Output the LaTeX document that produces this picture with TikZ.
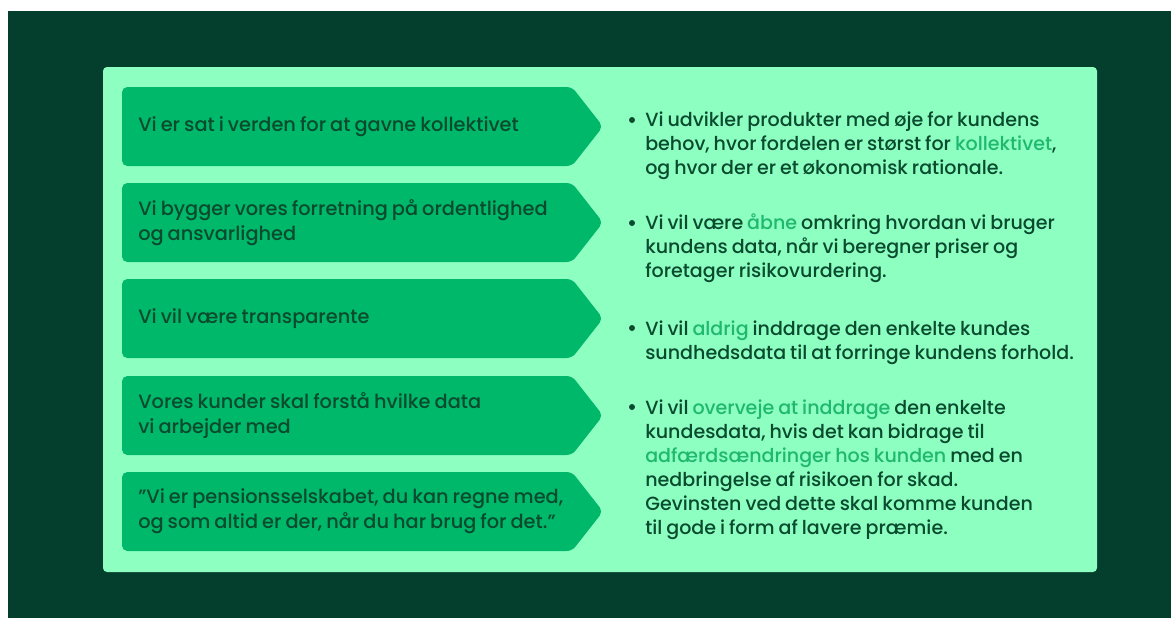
\documentclass[tikz,border=0pt]{standalone}
\usepackage{fontspec}
\IfFontExistsTF{Poppins Medium}{\setmainfont{Poppins Medium}[WordSpace=0.8]}{\setmainfont{Poppins}[WordSpace=0.8]}
\definecolor{darkbg}{HTML}{033F2C}
\definecolor{panel}{HTML}{8CFFC1}
\definecolor{boxgreen}{HTML}{00B86A}
\definecolor{textdark}{HTML}{0A4A2E}
\definecolor{hlgreen}{HTML}{1FB86E}
\newcommand\hl[1]{\textcolor{hlgreen}{#1}}

\begin{document}
\begin{tikzpicture}[x=0.75pt,y=-0.75pt]
	\tikzstyle{valuebox}=[fill=boxgreen, rounded corners=4pt]
	\tikzstyle{valuetext}=[anchor=west, inner sep=0pt, align=left, text=textdark, font=\fontsize{14.5}{18.75}\selectfont]
	\tikzstyle{pointtext}=[anchor=north west, inner sep=0pt, align=left, text=textdark, font=\fontsize{14.3}{18}\selectfont]
	\tikzstyle{dot}=[circle, fill=textdark, minimum size=4.5pt, inner sep=0pt]
	  % background and panel
	  \fill[white] (0,0) rectangle (1171,618);
	  \fill[darkbg] (8,11) rectangle (1171,618);
	  \fill[panel, rounded corners=3pt] (103,67) rectangle (1097,572);
	  % value arrows
	  \foreach \y/\name/\txt in {87/v1/{Vi er sat i verden for at gavne kollektivet},
	      183/v2/{Vi bygger vores forretning på ordentlighed\\og ansvarlighed},
	      279/v3/{Vi vil være transparente},
	      376/v4/{Vores kunder skal forstå hvilke data\\vi arbejder med},
	      472/v5/{”Vi er pensionsselskabet, du kan regne med,\\og som altid er der, når du har brug for det.”}}{
	    \fill[valuebox] (122,\y) -- ++(450,0) -- ++(31,39.5) -- ++(-31,39.5) -- ++(-450,0) -- cycle;
	    \node[valuetext] (\name) at (138,\y+39.5) {\txt};
	  }
	  % points
	  \node[pointtext] (p1) at (645,112) {Vi udvikler produkter med øje for kundens\\behov, hvor fordelen er størst for \hl{kollektivet},\\og hvor der er et økonomisk rationale.};
	  \node[pointtext] (p2) at (645,214) {Vi vil være \hl{åbne} omkring hvordan vi bruger\\kundens data, når vi beregner priser og\\foretager risikovurdering.};
	  \node[pointtext] (p3) at (645,321) {Vi vil \hl{aldrig} inddrage den enkelte kundes\\sundhedsdata til at forringe kundens forhold.};
	  \node[pointtext] (p4) at (645,400) {Vi vil \hl{overveje at inddrage} den enkelte\\kundesdata, hvis det kan bidrage til\\\hl{adfærdsændringer hos kunden} med en\\nedbringelse af risikoen for skad.\\Gevinsten ved dette skal komme kunden\\til gode i form af lavere præmie.};
	  \node[dot] (d1) at (632,120) {};
	  \node[dot] (d2) at (632,223) {};
	  \node[dot] (d3) at (632,328) {};
	  \node[dot] (d4) at (632,407) {};
\end{tikzpicture}
\end{document}
